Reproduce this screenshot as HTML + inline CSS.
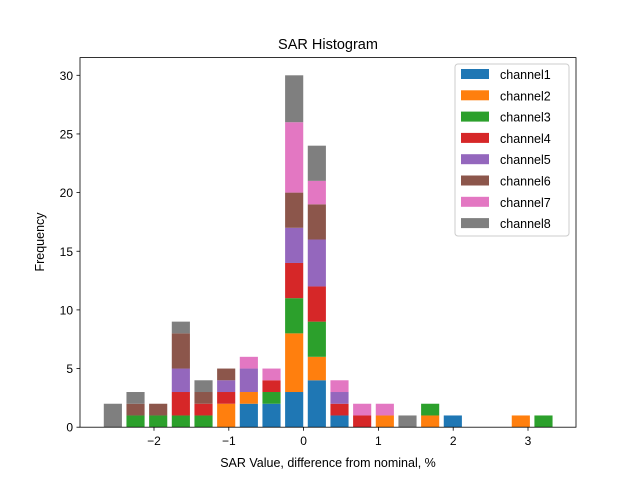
<!DOCTYPE html>
<html><head><meta charset="utf-8"><style>body{margin:0;background:#fff}svg{font-family:"Liberation Sans","DejaVu Sans",sans-serif}</style></head>
<body>
<svg id="c" width="640" height="480" xmlns="http://www.w3.org/2000/svg">
<rect width="640" height="480" fill="#fff"/>
<text x="328" y="49" font-size="14.5" text-anchor="middle">SAR Histogram</text>
<g id="bars"></g>
<rect x="80" y="57.6" width="496" height="369.6" fill="none" stroke="#000" stroke-width="0.8"/>
<g id="axes" font-size="12"></g>
<text x="328" y="467" font-size="12.5" text-anchor="middle">SAR Value, difference from nominal, %</text>
<text transform="translate(44,242) rotate(-90)" font-size="12.5" text-anchor="middle">Frequency</text>
<g id="legend"></g>
</svg>
<script>
const binStart = -2.55;
const binStep = 0.303;
const seriesNames = ["channel1","channel2","channel3","channel4","channel5","channel6","channel7","channel8"];
const colors = ["#1f77b4","#ff7f0e","#2ca02c","#d62728","#9467bd","#8c564b","#e377c2","#7f7f7f"];
const channel1 = [0,0,0,0,0,0,2,2,3,4,1,0,0,0,0,1,0,0,0,0];
const channel2 = [0,0,0,0,0,2,1,0,5,2,0,0,1,0,1,0,0,0,1,0];
const channel3 = [0,1,1,1,1,0,0,1,3,3,0,0,0,0,1,0,0,0,0,1];
const channel4 = [0,0,0,2,1,1,0,1,3,3,1,1,0,0,0,0,0,0,0,0];
const channel5 = [0,0,0,2,0,1,2,0,3,4,1,0,0,0,0,0,0,0,0,0];
const channel6 = [0,1,1,3,1,1,0,0,3,3,0,0,0,0,0,0,0,0,0,0];
const channel7 = [0,0,0,0,0,0,1,1,6,2,1,1,1,0,0,0,0,0,0,0];
const channel8 = [2,1,0,1,1,0,0,0,4,3,0,0,0,1,0,0,0,0,0,0];
const xTicks = [-2,-1,0,1,2,3];
const yTicks = [0,5,10,15,20,25,30];
const series = [channel1,channel2,channel3,channel4,channel5,channel6,channel7,channel8];
const NS="http://www.w3.org/2000/svg";
const xs = v => 303.6 + v*74.8;
const ys = v => 427.2 - v*11.73;
const bg = document.getElementById('bars');
const nb = channel1.length;
for (let i=0;i<nb;i++){
  let base=0;
  const cx = binStart + i*binStep;
  for (let s=0;s<series.length;s++){
    const v=series[s][i];
    if(!v) continue;
    const r=document.createElementNS(NS,'rect');
    r.setAttribute('x', xs(cx - binStep*0.4));
    r.setAttribute('width', xs(cx+binStep*0.4)-xs(cx-binStep*0.4));
    r.setAttribute('y', ys(base+v));
    r.setAttribute('height', ys(base)-ys(base+v));
    r.setAttribute('fill', colors[s]);
    
    
    bg.appendChild(r);
    base+=v;
  }
}
const ax=document.getElementById('axes');
function add(tag,attrs,txt){const e=document.createElementNS(NS,tag);for(const k in attrs)e.setAttribute(k,attrs[k]);if(txt!==undefined)e.textContent=txt;ax.appendChild(e);return e;}
xTicks.forEach(t=>{
  add('line',{x1:xs(t),x2:xs(t),y1:427.2,y2:430.7,stroke:'#000','stroke-width':0.8});
  const e=add('text',{x:xs(t),y:445,'text-anchor':'middle'},t<0?'\u2212'+(-t):String(t));
  
  
});
yTicks.forEach(t=>{
  add('line',{x1:76.5,x2:80,y1:ys(t),y2:ys(t),stroke:'#000','stroke-width':0.8});
  const e=add('text',{x:73,y:ys(t)+4.5,'text-anchor':'end'},String(t));
  
  
});
const lg=document.getElementById('legend');
const box=document.createElementNS(NS,'rect');
box.setAttribute('x',455);box.setAttribute('y',64);box.setAttribute('width',114);box.setAttribute('height',172);
box.setAttribute('rx',3);box.setAttribute('fill','#fff');box.setAttribute('fill-opacity',0.8);box.setAttribute('stroke','#ccc');


lg.appendChild(box);
seriesNames.forEach((n,i)=>{
  const y=69+i*21.3;
  const r=document.createElementNS(NS,'rect');
  r.setAttribute('x',461);r.setAttribute('y',y);r.setAttribute('width',28);r.setAttribute('height',10);r.setAttribute('fill',colors[i]);
  
  
  lg.appendChild(r);
  const t=document.createElementNS(NS,'text');
  t.setAttribute('x',500);t.setAttribute('y',y+10);t.setAttribute('font-size','12.5');t.textContent=n;
  
  
  lg.appendChild(t);
});
</script>
</body></html>
